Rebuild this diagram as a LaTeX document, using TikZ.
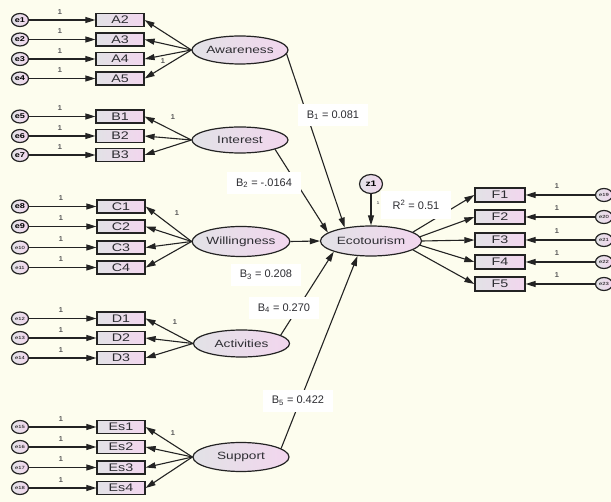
\documentclass[tikz,border=0pt]{standalone}
\usepackage{fontspec}
\setmainfont{Liberation Sans}[FakeStretch=1.3]
\newfontfamily\labfont{Liberation Sans}
\usetikzlibrary{arrows.meta,shapes.geometric}
\definecolor{bg}{RGB}{253,253,238}
\definecolor{boxL}{RGB}{226,226,230}
\definecolor{boxR}{RGB}{242,214,238}
\definecolor{lineC}{RGB}{35,35,35}
\definecolor{txtC}{RGB}{45,45,50}
\begin{document}
\begin{tikzpicture}[x=1pt,y=-1pt,
 ind/.style={draw=lineC, line width=1.2pt, rectangle, minimum width=48pt, minimum height=13pt, inner sep=0pt, left color=boxL, right color=boxR, text=txtC, font=\fontsize{11}{11}\selectfont},
 fbox/.style={ind, minimum width=50pt, minimum height=14pt},
 lat/.style={draw=lineC, line width=1.2pt, ellipse, inner sep=0pt, minimum width=96pt, minimum height=28pt, left color=boxL, right color=boxR, text=txtC, font=\fontsize{10.5}{11}\selectfont},
 err/.style={draw=lineC, line width=1.2pt, ellipse, minimum width=17pt, minimum height=13pt, inner sep=0pt, left color=boxL, right color=boxR, font=\fontsize{7}{7}\selectfont\bfseries},
 errs/.style={err, font=\fontsize{4.5}{5}\selectfont},
 arr/.style={draw=lineC, line width=1.1pt, -{Triangle[length=10pt,width=6pt]}},
 one/.style={font=\fontsize{7}{7}\selectfont, text=txtC, inner sep=0pt},
 blab/.style={fill=white, inner xsep=9pt, inner ysep=6pt, text=txtC, font=\labfont\fontsize{11}{11}\selectfont}
]
\clip (0,0) rectangle (611,502);
\fill[bg] (0,0) rectangle (611,502);

% ---------- latent variables ----------
\node[lat] (aw) at (240,50) {Awareness};
\node[lat, minimum height=26pt] (in) at (240,140) {Interest};
\node[lat, minimum height=30pt] (wi) at (241,241.5) {Willingness};
\node[lat, minimum height=27pt] (ac) at (241.5,343.5) {Activities};
\node[lat, minimum height=29pt] (su) at (241,457) {Support};
\node[lat, minimum width=101pt, minimum height=30pt] (eco) at (371,241) {Ecotourism};
\node[err, minimum width=23pt, minimum height=19pt, font=\fontsize{8}{8}\selectfont\bfseries] (z1) at (371,184) {z1};

% ---------- indicators: Awareness ----------
\foreach \n/\y/\e in {A2/20/e1, A3/39.5/e2, A4/59/e3, A5/78.5/e4}{
  \node[ind] (\n) at (120,\y) {\n};
  \node[err] (\e) at (20,\y) {\e};
  \draw[arr] (\e) -- (\n);
  \node[one] at (60,\y-8) {1};
  \draw[arr] (aw.west) -- (\n.east);
}
\node[one] at (163,61) {1};

% ---------- Interest ----------
\foreach \n/\y/\e in {B1/116.5/e5, B2/136/e6, B3/155/e7}{
  \node[ind] (\n) at (120,\y) {\n};
  \node[err] (\e) at (20,\y) {\e};
  \draw[arr] (\e) -- (\n);
  \node[one] at (60,\y-8) {1};
  \draw[arr] (in.west) -- (\n.east);
}
\node[one] at (173,117) {1};

% ---------- Willingness ----------
\foreach \n/\y/\e/\s in {C1/206.5/e8/err, C2/226.5/e9/err, C3/247.5/e10/errs, C4/267.5/e11/errs}{
  \node[ind] (\n) at (121,\y) {\n};
  \node[\s] (\e) at (20,\y) {\e};
  \draw[arr] (\e) -- (\n);
  \node[one] at (61,\y-8) {1};
  \draw[arr] (wi.west) -- (\n.east);
}
\node[one] at (177,213) {1};

% ---------- Activities ----------
\foreach \n/\y/\e in {D1/318.5/e12, D2/338/e13, D3/358/e14}{
  \node[ind] (\n) at (121,\y) {\n};
  \node[errs] (\e) at (20,\y) {\e};
  \draw[arr] (\e) -- (\n);
  \node[one] at (61,\y-8) {1};
  \draw[arr] (ac.west) -- (\n.east);
}
\node[one] at (175,322) {1};

% ---------- Support ----------
\foreach \n/\y/\e in {Es1/427/e15, Es2/447/e16, Es3/467.5/e17, Es4/488/e18}{
  \node[ind] (\n) at (121,\y) {\n};
  \node[errs] (\e) at (20,\y) {\e};
  \draw[arr] (\e) -- (\n);
  \node[one] at (61,\y-8) {1};
  \draw[arr] (su.west) -- (\n.east);
}
\node[one] at (173,433) {1};

% ---------- Ecotourism indicators ----------
\foreach \n/\y/\e/\a in {F1/195/e19/12, F2/217/e20/5, F3/240/e21/0, F4/262/e22/-5, F5/284/e23/-12}{
  \node[fbox] (\n) at (500,\y) {\n};
  \node[errs] (\e) at (604,\y) {\e};
  \draw[arr] (\e) -- (\n);
  \node[one] at (557,\y-9) {1};
  \draw[arr] (eco.\a) -- (\n.west);
}

% ---------- structural paths ----------
\draw[arr] (aw.-5) -- (eco.153);
\draw[arr] (in.-15) -- (eco.169);
\draw[arr] (wi.east) -- (eco.west);
\draw[arr] (ac.12) -- (eco.196);
\draw[arr] (su.12) -- (eco.228);
\draw[arr] (z1) -- (eco.north);
\node[one, font=\fontsize{4}{4}\selectfont] at (378,203) {1};

% ---------- labels ----------
\node[blab] (b1) at (333,115) {B\textsubscript{1} = 0.081};
\node[blab] (b2) at (264,183) {B\textsubscript{2} = -.0164};
\node[blab] (b3) at (266,275) {B\textsubscript{3} = 0.208};
\node[blab] (b4) at (284,308) {B\textsubscript{4} = 0.270};
\node[blab] (b5) at (298,401) {B\textsubscript{5} = 0.422};
\node[blab, inner xsep=12pt, inner ysep=9pt] (r2) at (416,205) {R\textsuperscript{2} = 0.51};
\end{tikzpicture}
\end{document}
